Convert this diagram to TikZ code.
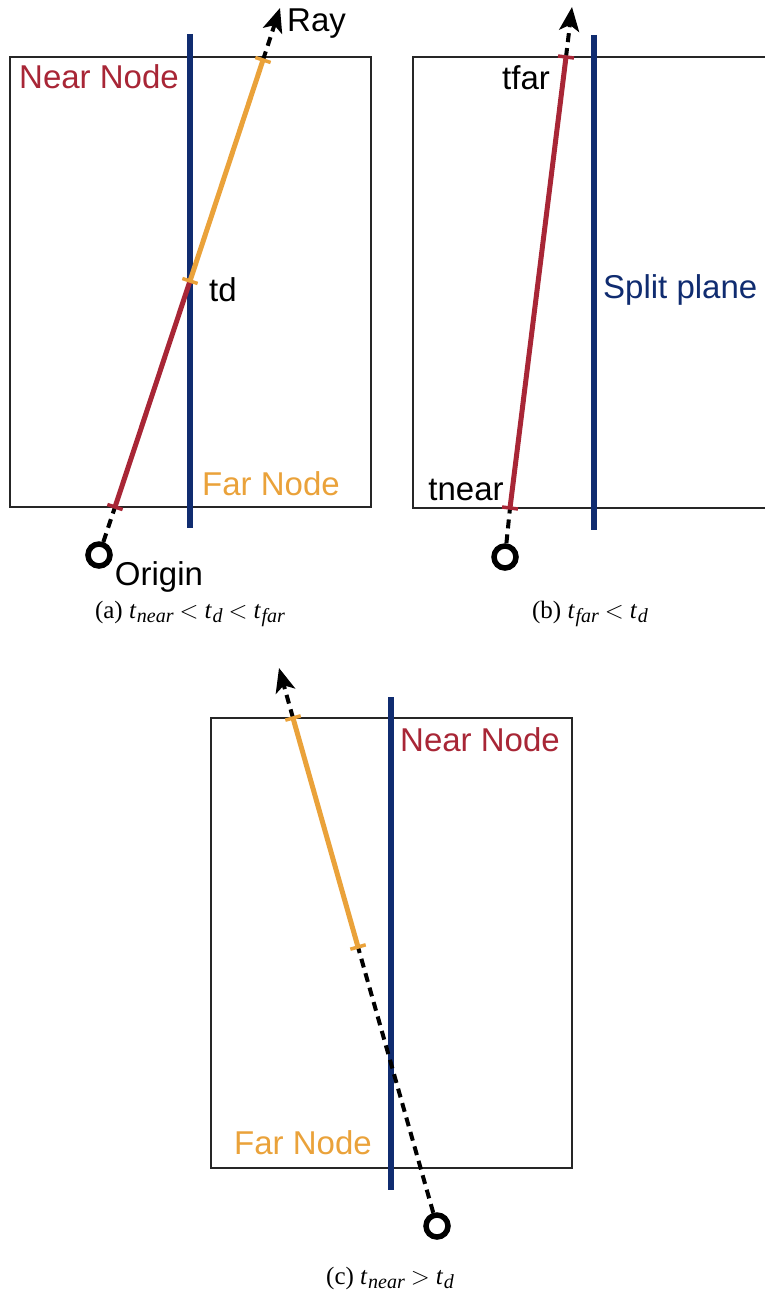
\documentclass[tikz,border=0pt]{standalone}
\usepackage{fontspec}
\setmainfont{Liberation Serif}
\newfontfamily\lblfont{Liberation Sans}
\usetikzlibrary{arrows.meta,calc}
\definecolor{splitblue}{RGB}{16,44,112}
\definecolor{nearred}{RGB}{168,38,54}
\definecolor{farorange}{RGB}{234,162,58}
\newcommand\raytick[3]{\draw[#1,line width=3.5pt] ($(#2)!8pt!90:(#3)$) -- ($(#2)!8pt!-90:(#3)$);}
\newcommand\capt[1]{\textit{t}\hspace{0.5pt}\raisebox{-4.5pt}{\fontsize{20}{20}\selectfont\textit{#1}}}
\newcommand\caprel[1]{\hspace{6pt}$#1$\hspace{6pt}}
\begin{document}
\begin{tikzpicture}[x=1pt,y=-1pt,
 boxline/.style={draw=black!85,line width=1.4pt},
 planeline/.style={draw=splitblue,line width=6pt},
 nearseg/.style={draw=nearred,line width=5pt},
 farseg/.style={draw=farorange,line width=5pt},
 raydash/.style={draw=black,line width=4pt,dash pattern=on 9pt off 6pt},
 rayarrow/.style={raydash,-{Stealth[length=24pt,width=20pt,inset=6pt]}},
 originring/.style={circle,draw=black,line width=5.5pt,minimum size=22pt,inner sep=0pt},
 lbl/.style={font=\lblfont\fontsize{33}{39}\selectfont,inner sep=0pt},
 captext/.style={font=\fontsize{25}{29}\selectfont,inner sep=0pt},
]
\path[use as bounding box] (0,0) rectangle (765,1295);
% ---------- panel (a)
\draw[boxline] (10,57) rectangle (371,507);
\coordinate (pa1) at (190,34); \coordinate (pa2) at (190,528);
\draw[planeline] (pa1) -- (pa2);
\node[originring] (oa) at (99,555) {};
\coordinate (na) at (115,507);
\coordinate (da) at (190,281);
\coordinate (fa) at (263,60);
\coordinate (ta) at (280,8);
\draw[raydash] (oa) -- (na);
\draw[nearseg] (na) -- (da);
\draw[farseg] (da) -- (fa);
\draw[rayarrow] (fa) -- (ta);
\raytick{nearred}{na}{da}
\raytick{farorange}{da}{fa}
\raytick{farorange}{fa}{da}
\node[lbl,text=nearred] (nna) at (99,77) {Near Node};
\node[lbl,anchor=west] (raya) at (287,24) {Ray};
\node[lbl] (tda) at (223,290) {td};
\node[lbl,text=farorange] (fna) at (271,484) {Far Node};
\node[lbl] (orga) at (159,577) {Origin};
\node[captext] (capa) at (190,614) {(a) \capt{near}\caprel{<}\capt{d}\caprel{<}\capt{far}};
% ---------- panel (b)
\draw[boxline] (766,57) -- (413,57) -- (413,508) -- (766,508);
\coordinate (pb1) at (594,35); \coordinate (pb2) at (594,530);
\draw[planeline] (pb1) -- (pb2);
\node[originring] (ob) at (505,557) {};
\coordinate (nb) at (510,508);
\coordinate (fb) at (566,57);
\coordinate (tb) at (572,7);
\draw[raydash] (ob) -- (nb);
\draw[nearseg] (nb) -- (fb);
\draw[rayarrow] (fb) -- (tb);
\raytick{nearred}{nb}{fb}
\raytick{nearred}{fb}{nb}
\node[lbl] (tfb) at (526,78) {tfar};
\node[lbl] (tnb) at (466,490) {tnear};
\node[lbl,text=splitblue,anchor=west] (spb) at (603,290) {Split plane};
\node[captext] (capb) at (590,614) {(b) \capt{far}\caprel{<}\capt{d}};
% ---------- panel (c)
\draw[boxline] (211,718) rectangle (572,1168);
\coordinate (pc1) at (391,697); \coordinate (pc2) at (391,1190);
\draw[planeline] (pc1) -- (pc2);
\node[originring] (oc) at (437,1226) {};
\coordinate (nc) at (358,947);
\coordinate (fc) at (293,718);
\coordinate (tc) at (279,668);
\draw[raydash] (oc) -- (nc);
\draw[farseg] (nc) -- (fc);
\draw[rayarrow] (fc) -- (tc);
\raytick{farorange}{nc}{fc}
\raytick{farorange}{fc}{nc}
\node[lbl,text=nearred] (nnc) at (480,740) {Near Node};
\node[lbl,text=farorange] (fnc) at (303,1143) {Far Node};
\node[captext] (capc) at (390,1278) {(c) \capt{near}\caprel{>}\capt{d}};
\end{tikzpicture}
\end{document}
